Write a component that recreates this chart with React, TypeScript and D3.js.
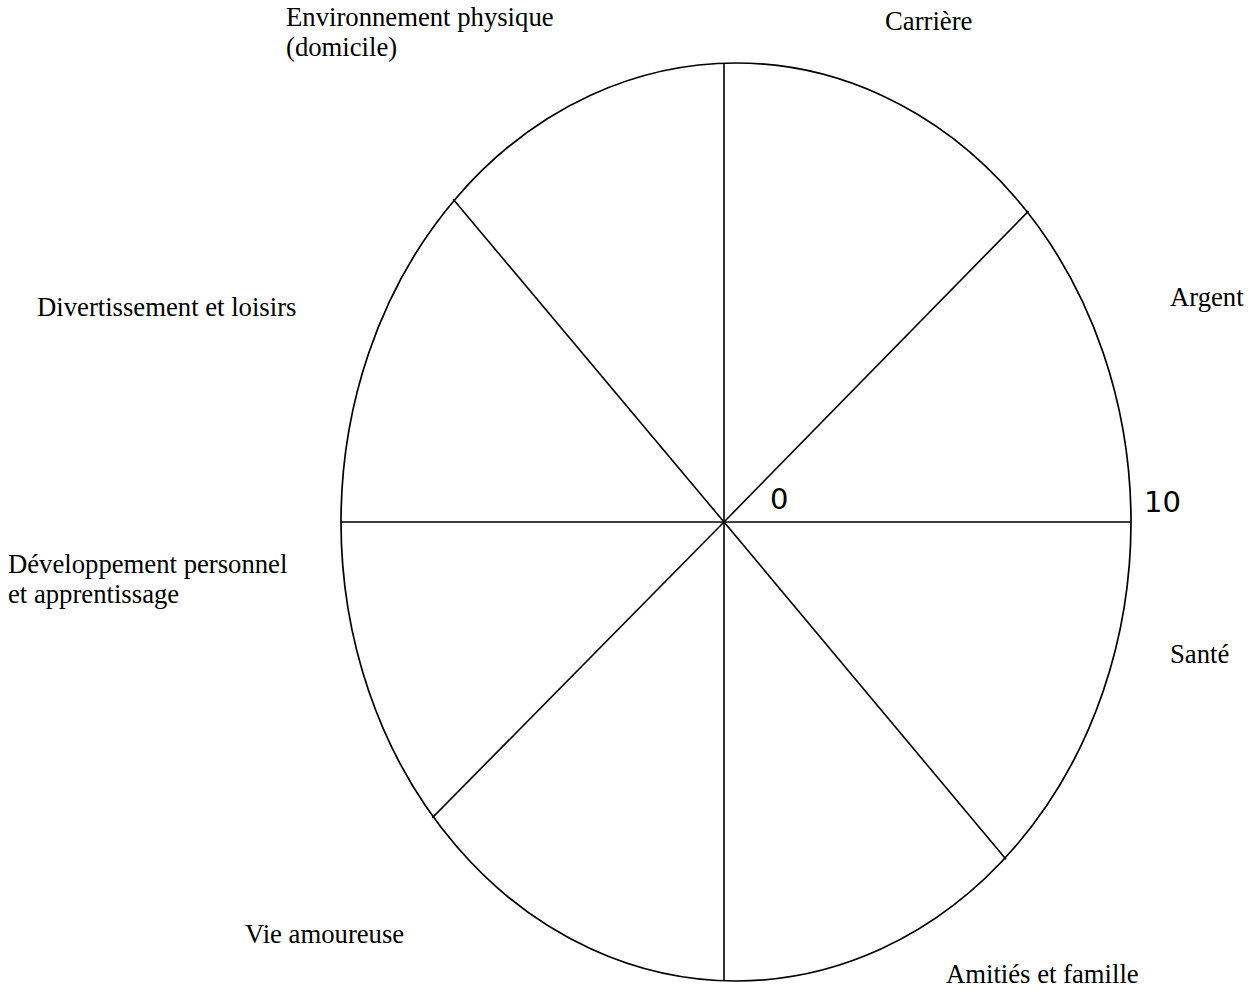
import React from 'react';
import * as d3 from 'd3';

// wheel categories, clockwise from the top, with the direction of each spoke (degrees, 0 = east, counter-clockwise)
const categories = [
  'Carrière',
  'Argent',
  'Santé',
  'Amitiés et famille',
  'Vie amoureuse',
  'Développement personnel et apprentissage',
  'Divertissement et loisirs',
  'Environnement physique (domicile)',
];
const spokeAngles = [90, 45.6, 0, -50.1, -90, -134.6, 180, 130];
const scaleTicks = [0, 10];

// where each label sits (lines of text, left x, first baseline)
const labelLayout: { lines: string[]; x: number; y: number }[] = [
  { lines: ['Carrière'], x: 885, y: 30 },
  { lines: ['Argent'], x: 1170, y: 306 },
  { lines: ['Santé'], x: 1170, y: 663 },
  { lines: ['Amitiés et famille'], x: 946, y: 983 },
  { lines: ['Vie amoureuse'], x: 245, y: 943 },
  { lines: ['Développement personnel', 'et apprentissage'], x: 8, y: 573 },
  { lines: ['Divertissement et loisirs'], x: 37, y: 316 },
  { lines: ['Environnement physique', '(domicile)'], x: 286, y: 26 },
];

const W = 1251;
const H = 989;

// ellipse outline and the hub where the spokes meet
const ell = { cx: 736, cy: 522, rx: 395, ry: 459 };
const hub = { x: 724, y: 522 };

// distance along a ray from the hub to the ellipse
function rayToEllipse(deg: number) {
  const a = (deg * Math.PI) / 180;
  const c = Math.cos(a);
  const s = -Math.sin(a);
  const px = (hub.x - ell.cx) / ell.rx;
  const py = (hub.y - ell.cy) / ell.ry;
  const dx = c / ell.rx;
  const dy = s / ell.ry;
  const A = dx * dx + dy * dy;
  const B = 2 * (px * dx + py * dy);
  const C = px * px + py * py - 1;
  const t = (-B + Math.sqrt(B * B - 4 * A * C)) / (2 * A);
  return { c, s, t };
}

export default function App() {
  // radial scale along the east spoke: 0 at the hub, 10 at the rim
  const r = d3.scaleLinear().domain([0, 10]).range([hub.x, ell.cx + ell.rx]);

  const spokes = spokeAngles.map((deg, i) => {
    const { c, s, t } = rayToEllipse(deg);
    const len = t + (i % 2 === 0 ? 0 : 1.5);
    return { x2: hub.x + c * len, y2: hub.y + s * len, key: categories[i] };
  });

  return (
    <svg width={W} height={H} style={{ position: 'absolute', left: 0, top: 0, background: '#fff' }}>
      <ellipse cx={ell.cx} cy={ell.cy} rx={ell.rx} ry={ell.ry} fill="none" stroke="#000" strokeWidth={1.7} />
      {spokes.map((d) => (
        <line key={d.key} x1={hub.x} y1={hub.y} x2={d.x2} y2={d.y2} stroke="#000" strokeWidth={1.6} />
      ))}
      {labelLayout.map((l, i) => (
        <text key={categories[i]} x={l.x} y={l.y} fontFamily="'Liberation Serif', 'Times New Roman', serif" fontSize={26.7} fill="#000">
          {l.lines.map((line, j) => (
            <tspan key={j} x={l.x} dy={j === 0 ? 0 : 30}>{line}</tspan>
          ))}
        </text>
      ))}
      {scaleTicks.map((v) => (
        <text key={v} x={v === 0 ? r(v) + 46 : r(v) + 13} y={v === 0 ? 509 : 512}
          fontFamily="'DejaVu Sans', Verdana, sans-serif" fontSize={29} fill="#000">{v}</text>
      ))}
    </svg>
  );
}
